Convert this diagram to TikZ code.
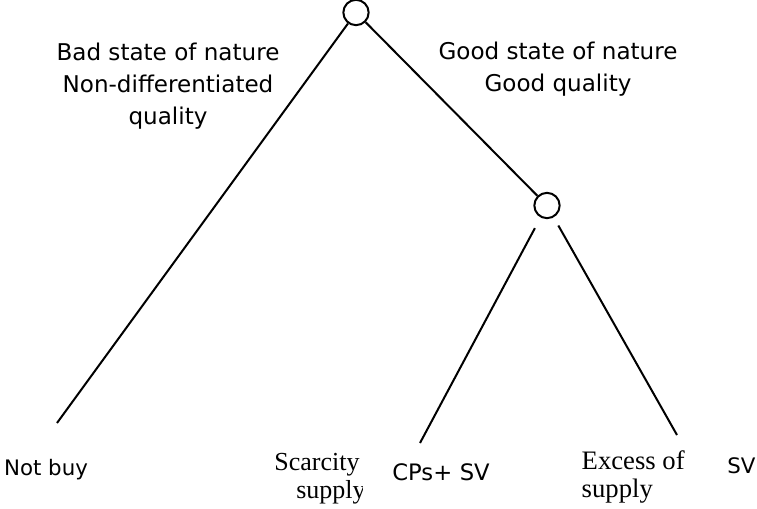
\documentclass[tikz,border=0pt]{standalone}
\usepackage{fontspec}
\setmainfont{Liberation Serif}
\newfontfamily\labelfont{DejaVu Sans}
\tikzset{
  branch/.style={line width=1.5pt},
  chancenode/.style={circle, draw, line width=1.5pt, minimum size=19pt, inner sep=0pt},
  stateinfo/.style={font=\labelfont\fontsize{17.3}{24}\selectfont, align=center},
  leafsans/.style={font=\labelfont\fontsize{16}{18}\selectfont},
  leafserif/.style={font=\fontsize{19.5}{21}\selectfont},
}
\begin{document}
\begin{tikzpicture}[x=0.75pt,y=-0.75pt]
\useasboundingbox (0,0) rectangle (757,508);
\node[chancenode] (root) at (356,12.5) {};
\node[chancenode] (nature) at (547,205.5) {};
\coordinate (notbuy) at (57,423);
\coordinate (cps) at (420,443);
\coordinate (excess) at (677,435);
\draw[branch] (root) -- (notbuy);
\draw[branch] (root) -- (nature);
\draw[branch, shorten <=9pt] (nature) -- (cps);
\draw[branch, shorten <=7pt] (nature) -- (excess);
\node[stateinfo] (bad) at (168,86) {Bad state of nature\\Non-differentiated\\quality};
\node[stateinfo] (good) at (558,69) {Good state of nature\\Good quality};
\node[leafsans] (nb) at (46,470) {Not buy};
\node[leafserif, align=center] (scarce) at (331,478) {Scarcity of\\supply};
\node[leafsans, font=\labelfont\fontsize{17}{19}\selectfont, fill=white, anchor=east, inner xsep=3pt, inner ysep=10pt, text width=92pt, align=right] (cpsv) at (494,472) {CPs+ SV};
\node[leafserif, font=\fontsize{20}{21}\selectfont, align=left, anchor=west] (exc) at (577,477) {Excess of\\supply};
\node[leafsans] (sv) at (741.5,466) {SV};
\end{tikzpicture}
\end{document}
